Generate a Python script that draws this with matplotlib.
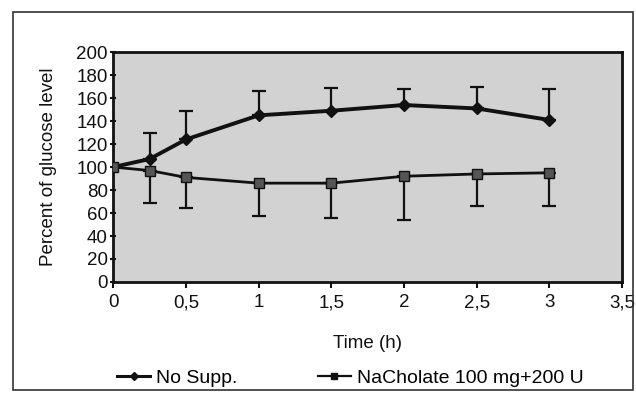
import matplotlib
matplotlib.use('Agg')
import matplotlib.pyplot as plt
from matplotlib.patches import Rectangle
from matplotlib.lines import Line2D

plt.rcParams['font.family'] = ['Liberation Sans', 'DejaVu Sans']

# data
time_h = [0, 0.25, 0.5, 1, 1.5, 2, 2.5, 3]
no_supp = [100, 107, 124, 145, 149, 154, 151, 141]
no_supp_err = [0, 23, 25, 21, 20, 14, 19, 27]
nachol = [100, 97, 91, 86, 86, 92, 94, 95]
nachol_err = [0, 28, 27, 29, 30, 38, 28, 29]
xticks = [0, 0.5, 1, 1.5, 2, 2.5, 3, 3.5]
xtick_labels = ['0', '0,5', '1', '1,5', '2', '2,5', '3', '3,5']
yticks = list(range(0, 201, 20))

fig = plt.figure(figsize=(6.36, 3.98), dpi=100)
ax = fig.add_axes([0.178, 0.2915, 0.80, 0.5775])
ax.set_facecolor('#d2d2d2')

ink = '#111111'
ax.errorbar(time_h, no_supp, yerr=[[0]*len(no_supp_err), no_supp_err],
            color=ink, lw=2.8, marker='D', ms=6, capsize=5, elinewidth=1.6,
            capthick=1.6, zorder=3)
ax.errorbar(time_h, nachol, yerr=[nachol_err, [0]*len(nachol_err)],
            color=ink, lw=2.0, marker='s', ms=7, mfc='#555555', capsize=5,
            elinewidth=1.6, capthick=1.6, zorder=3)

ax.set_xlim(0, 3.5)
ax.set_ylim(0, 200)
ax.set_xticks(xticks)
ax.set_xticklabels(xtick_labels)
ax.set_yticks(yticks)
ax.tick_params(axis='both', labelsize=13.5, colors=ink, width=1.5, length=4)
ax.tick_params(axis='y', direction='inout', pad=2)
ax.tick_params(axis='x', direction='out', pad=5)
for s in ax.spines.values():
    s.set_linewidth(2.0)
    s.set_color(ink)

ax.set_ylabel('Percent of glucose level', fontsize=13.5, color=ink, labelpad=14)
ax.set_xlabel('Time (h)', fontsize=13.5, color=ink, labelpad=17)

h1 = Line2D([], [], color=ink, lw=2.2, marker='D', ms=4)
h2 = Line2D([], [], color=ink, lw=1.6, marker='s', ms=4)
leg1 = fig.legend([h1], ['No Supp.'], loc='center left',
                  bbox_to_anchor=(0.157, 0.05), frameon=False, fontsize=14,
                  handlelength=1.7, handletextpad=0.3)
leg2 = fig.legend([h2], ['NaCholate 100 mg+200 U'], loc='center left',
                  bbox_to_anchor=(0.472, 0.05), frameon=False, fontsize=14,
                  handlelength=1.7, handletextpad=0.3)

fig.patches.append(Rectangle((0.02, 0.02), 0.975, 0.95, transform=fig.transFigure,
                             fill=False, lw=1.2, ec='#333333'))

fig.savefig('out.png', dpi=100)
